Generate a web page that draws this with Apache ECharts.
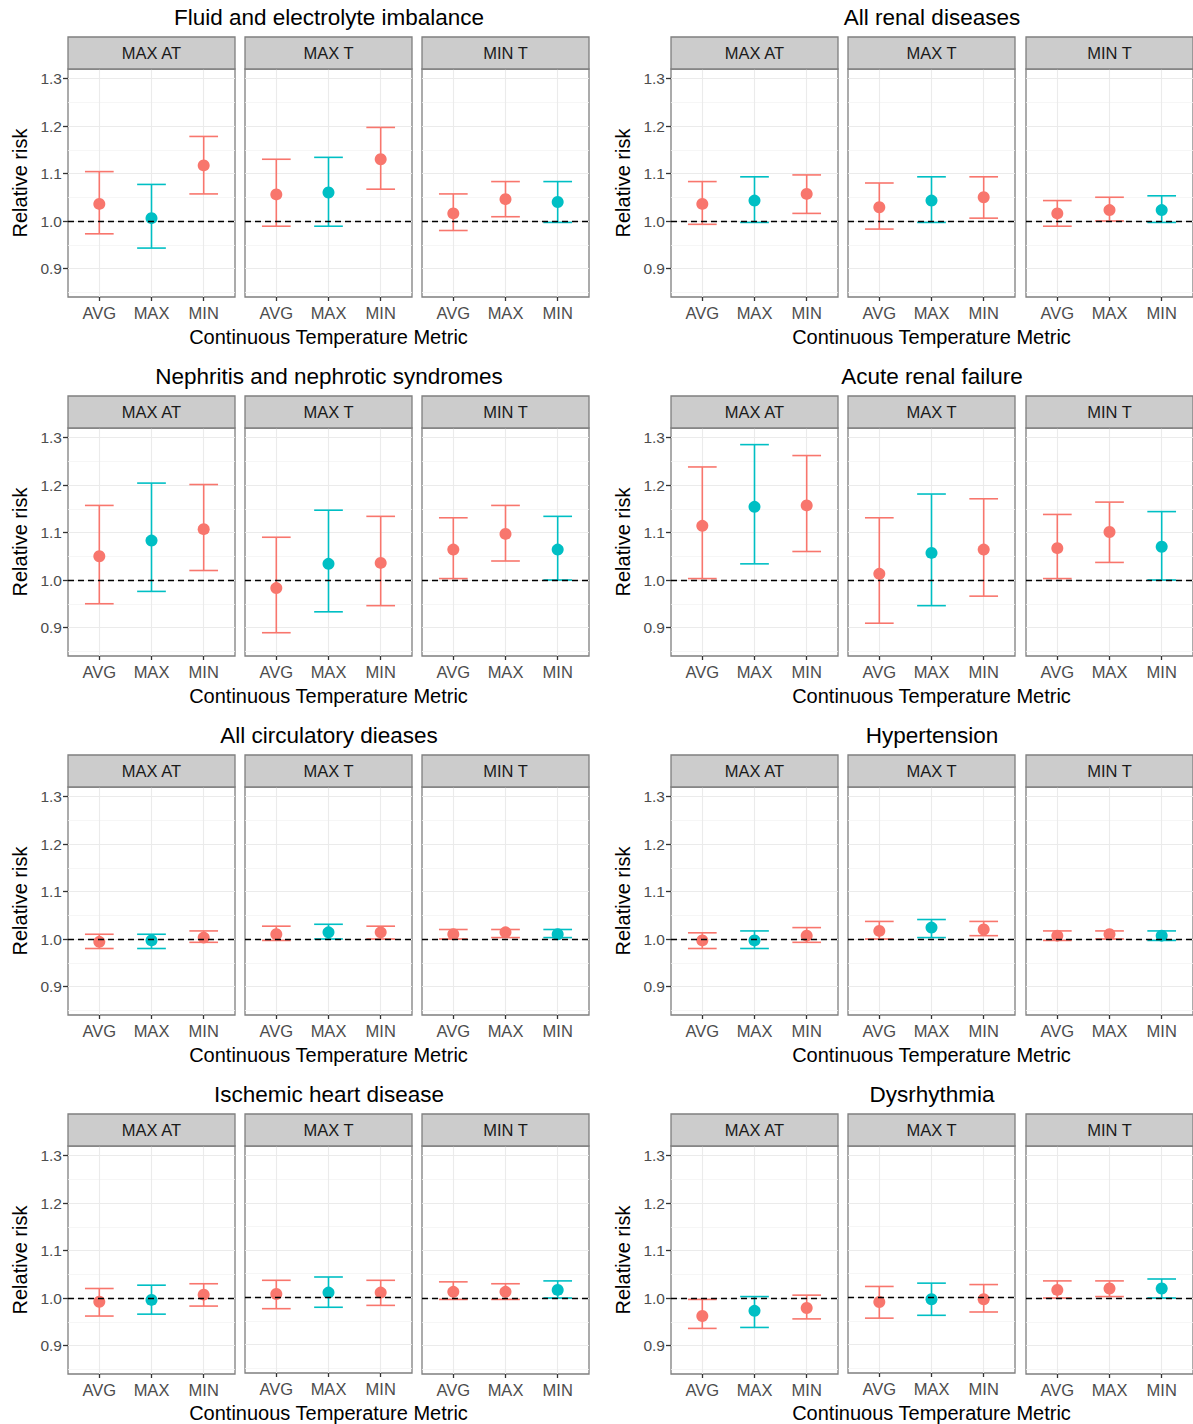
<!DOCTYPE html>
<html><head><meta charset="utf-8">
<script src="https://cdn.jsdelivr.net/npm/echarts@6/dist/echarts.min.js"></script>
<style>html,body{margin:0;padding:0;background:#fff;} #c{width:1193px;height:1424px;}</style>
</head><body><div id="c"></div>
<script>
// ---------- labels ----------
const panelTitles = [
  "Fluid and electrolyte imbalance", "All renal diseases",
  "Nephritis and nephrotic syndromes", "Acute renal failure",
  "All circulatory dieases", "Hypertension",
  "Ischemic heart disease", "Dysrhythmia"
];
const facetLabels = ["MAX AT", "MAX T", "MIN T"];
const metricLabels = ["AVG", "MAX", "MIN"];
const highlightMetric = [1, 1, 2];           // metric that matches the facet (teal)
const yTickValues = [0.9, 1.0, 1.1, 1.2, 1.3];
const yMinorValues = [0.85, 0.95, 1.05, 1.15, 1.25];
const xAxisTitle = "Continuous Temperature Metric";
const yAxisTitle = "Relative risk";

// ---------- data: 9 values per panel = [MAX AT: AVG,MAX,MIN | MAX T: AVG,MAX,MIN | MIN T: AVG,MAX,MIN] ----------
const fluidRR   = [1.036, 1.006, 1.117, 1.056, 1.060, 1.130, 1.016, 1.046, 1.040];
const fluidLow  = [0.973, 0.943, 1.057, 0.989, 0.989, 1.067, 0.980, 1.009, 0.997];
const fluidHigh = [1.104, 1.077, 1.178, 1.130, 1.134, 1.197, 1.057, 1.083, 1.083];

const renalRR   = [1.036, 1.043, 1.057, 1.029, 1.043, 1.050, 1.016, 1.023, 1.023];
const renalLow  = [0.993, 0.997, 1.016, 0.983, 0.997, 1.006, 0.989, 1.000, 0.997];
const renalHigh = [1.083, 1.093, 1.097, 1.080, 1.093, 1.093, 1.043, 1.050, 1.053];

const nephRR    = [1.050, 1.083, 1.107, 0.983, 1.034, 1.036, 1.064, 1.097, 1.064];
const nephLow   = [0.950, 0.976, 1.020, 0.889, 0.933, 0.946, 1.003, 1.040, 1.000];
const nephHigh  = [1.157, 1.204, 1.201, 1.090, 1.147, 1.134, 1.131, 1.157, 1.134];

const acuteRR   = [1.114, 1.154, 1.157, 1.013, 1.057, 1.064, 1.067, 1.101, 1.070];
const acuteLow  = [1.003, 1.034, 1.060, 0.909, 0.946, 0.966, 1.003, 1.037, 1.000];
const acuteHigh = [1.238, 1.285, 1.262, 1.131, 1.181, 1.171, 1.138, 1.164, 1.144];

const circRR    = [0.994, 0.997, 1.003, 1.010, 1.014, 1.014, 1.010, 1.014, 1.010];
const circLow   = [0.980, 0.980, 0.993, 0.997, 1.000, 1.000, 1.000, 1.003, 1.003];
const circHigh  = [1.010, 1.010, 1.017, 1.027, 1.031, 1.027, 1.020, 1.020, 1.020];

const hyperRR   = [0.997, 0.997, 1.007, 1.017, 1.024, 1.020, 1.007, 1.010, 1.007];
const hyperLow  = [0.980, 0.980, 0.993, 1.000, 1.003, 1.007, 0.997, 1.000, 0.997];
const hyperHigh = [1.013, 1.017, 1.024, 1.037, 1.041, 1.037, 1.017, 1.017, 1.017];

const ihdRR     = [0.992, 0.996, 1.007, 1.007, 1.010, 1.010, 1.013, 1.013, 1.017];
const ihdLow    = [0.962, 0.966, 0.983, 0.976, 0.979, 0.983, 0.997, 0.997, 1.000];
const ihdHigh   = [1.020, 1.027, 1.030, 1.036, 1.043, 1.036, 1.034, 1.030, 1.036];

const dysRR     = [0.962, 0.973, 0.979, 0.990, 0.996, 0.996, 1.017, 1.020, 1.020];
const dysLow    = [0.936, 0.938, 0.956, 0.956, 0.962, 0.969, 1.000, 1.003, 1.000];
const dysHigh   = [0.997, 1.003, 1.006, 1.023, 1.030, 1.027, 1.036, 1.036, 1.040];

const panelData = [
  [fluidRR, fluidLow, fluidHigh], [renalRR, renalLow, renalHigh],
  [nephRR, nephLow, nephHigh],    [acuteRR, acuteLow, acuteHigh],
  [circRR, circLow, circHigh],    [hyperRR, hyperLow, hyperHigh],
  [ihdRR, ihdLow, ihdHigh],       [dysRR, dysLow, dysHigh]
];

// ---------- layout / style ----------
const FONT = '"Liberation Sans", Arial, sans-serif';
const RED = '#F8766D', TEAL = '#00BFC4';
const colFacetLeft = [[68, 245, 422], [671, 848, 1026]];
const colCenter = [329, 932];
const facetW = 167, plotTop0 = 69, rowStep = 359, plotH = 228, stripH = 32;
const yMin = 0.84, yMax = 1.32, xMin = -0.6, xMax = 2.6, capHalf = 0.275;

const grids = [], xAxes = [], yAxes = [], series = [], graphics = [];

panelData.forEach((pd, p) => {
  const col = p % 2, row = Math.floor(p / 2);
  const top = plotTop0 + row * rowStep;
  graphics.push({
    type: 'text', x: colCenter[col], y: top - 52,
    style: { text: panelTitles[p], font: '22.5px ' + FONT, fill: '#000', textAlign: 'center', textVerticalAlign: 'middle' }
  });
  for (let f = 0; f < 3; f++) {
    const g = p * 3 + f;
    const left = colFacetLeft[col][f];
    grids.push({ left: left, top: top, width: facetW, height: plotH, show: true,
      borderColor: '#7F7F7F', borderWidth: 1.3, backgroundColor: 'transparent', containLabel: false });
    graphics.push({ type: 'rect', shape: { x: left, y: top - stripH, width: facetW, height: stripH },
      style: { fill: '#CCCCCC', stroke: '#7F7F7F', lineWidth: 1.3 }, z: 10 });
    graphics.push({ type: 'text', x: left + facetW / 2, y: top - stripH / 2,
      style: { text: facetLabels[f], font: '16.5px ' + FONT, fill: '#1A1A1A', textAlign: 'center', textVerticalAlign: 'middle' }, z: 11 });

    xAxes.push({
      type: 'value', gridIndex: g, min: xMin, max: xMax,
      name: f === 1 ? xAxisTitle : '', nameLocation: 'middle', nameGap: 30,
      nameTextStyle: { fontFamily: FONT, fontSize: 20, color: '#000' },
      axisLine: { show: false, onZero: false },
      axisTick: { show: true, length: 4, customValues: [0, 1, 2], lineStyle: { color: '#333', width: 1.3 } },
      axisLabel: { show: true, customValues: [0, 1, 2], formatter: v => metricLabels[Math.round(v)] || '',
        fontFamily: FONT, fontSize: 16.5, color: '#4D4D4D', margin: 7 },
      splitLine: { show: true, lineStyle: { color: '#EBEBEB', width: 1.1 } }
    });
    yAxes.push({
      type: 'value', gridIndex: g, min: yMin, max: yMax,
      name: f === 0 ? yAxisTitle : '', nameLocation: 'middle', nameGap: 38, nameRotate: 90,
      nameTextStyle: { fontFamily: FONT, fontSize: 20, color: '#000' },
      axisLine: { show: false, onZero: false },
      axisTick: { show: f === 0, length: 5, customValues: yTickValues, lineStyle: { color: '#333', width: 1.3 } },
      axisLabel: { show: f === 0, customValues: yTickValues, formatter: v => v.toFixed(1),
        fontFamily: FONT, fontSize: 15.5, color: '#4D4D4D', margin: 6 },
      splitLine: { show: true, lineStyle: { color: '#EBEBEB', width: 1.1 } }
    });
    yAxes.push({
      type: 'value', gridIndex: g, min: yMin, max: yMax,
      axisLine: { show: false, onZero: false },
      axisTick: { show: false, customValues: yMinorValues },
      axisLabel: { show: false, customValues: yMinorValues },
      splitLine: { show: true, lineStyle: { color: '#F4F4F4', width: 0.8 } }
    });

    const est = pd[0].slice(f * 3, f * 3 + 3);
    const lo = pd[1].slice(f * 3, f * 3 + 3);
    const hi = pd[2].slice(f * 3, f * 3 + 3);
    const colorOf = i => (i === highlightMetric[f] ? TEAL : RED);

    series.push({
      type: 'custom', xAxisIndex: g, yAxisIndex: 2 * g, z: 3, silent: true,
      data: [0, 1, 2].map(i => [i, lo[i], hi[i]]),
      renderItem: (params, api) => {
        const x = api.value(0);
        const pLo = api.coord([x, api.value(1)]);
        const pHi = api.coord([x, api.value(2)]);
        const hw = api.size([capHalf, 0])[0];
        const c = colorOf(params.dataIndex);
        const st = { stroke: c, lineWidth: 1.6, fill: null };
        return { type: 'group', children: [
          { type: 'line', shape: { x1: pLo[0], y1: pLo[1], x2: pHi[0], y2: pHi[1] }, style: st },
          { type: 'line', shape: { x1: pLo[0] - hw, y1: pLo[1], x2: pLo[0] + hw, y2: pLo[1] }, style: st },
          { type: 'line', shape: { x1: pHi[0] - hw, y1: pHi[1], x2: pHi[0] + hw, y2: pHi[1] }, style: st }
        ] };
      }
    });
    series.push({
      type: 'scatter', xAxisIndex: g, yAxisIndex: 2 * g, z: 4, silent: true,
      symbol: 'circle', symbolSize: 12,
      data: [0, 1, 2].map(i => ({ value: [i, est[i]], itemStyle: { color: colorOf(i), opacity: 1 } })),
      markLine: {
        silent: true, symbol: 'none', z: 5,
        label: { show: false },
        lineStyle: { color: '#000', type: [6, 4], width: 1.4 },
        data: [{ yAxis: 1.0 }]
      }
    });
  }
});

const chart = echarts.init(document.getElementById('c'), null, { renderer: 'svg', width: 1193, height: 1424 });
chart.setOption({
  backgroundColor: '#fff',
  animation: false,
  grid: grids, xAxis: xAxes, yAxis: yAxes, series: series,
  graphic: { elements: graphics }
});
</script>
</body></html>
